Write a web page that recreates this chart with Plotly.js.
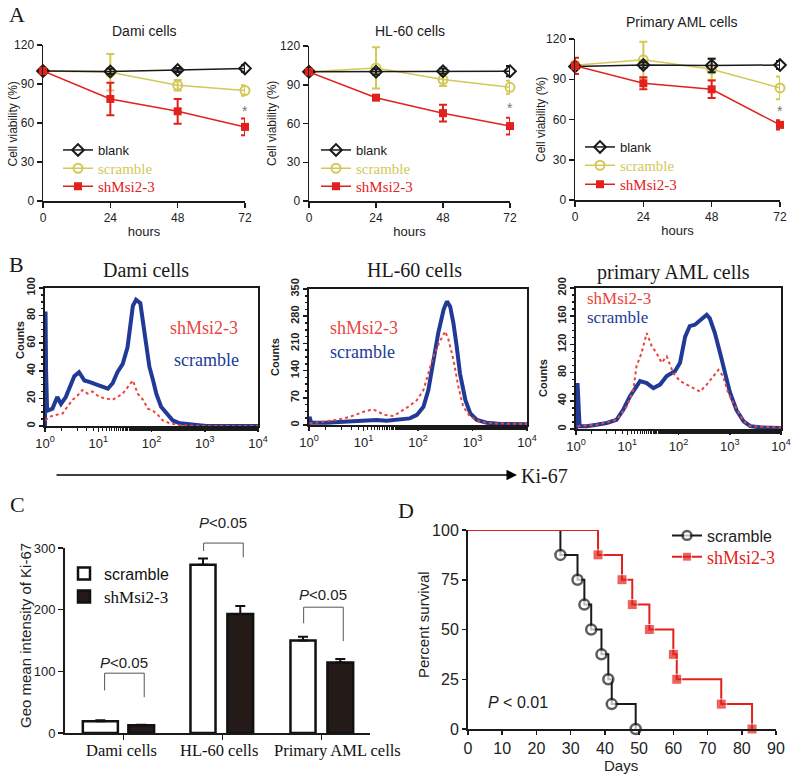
<!DOCTYPE html>
<html>
<head>
<meta charset="utf-8">
<script src="https://cdn.plot.ly/plotly-3.0.1.min.js"></script>
<style>html,body{margin:0;padding:0;background:#fff;}#chart{width:791px;height:776px;}</style>
</head>
<body>
<div id="chart"></div>
<script>
// ---------------- DATA ----------------
// Panel A: cell viability (%)
const hours = [0, 24, 48, 72];
const damiBlank = [100, 99.7, 100.8, 102];
const damiBlankErr = [1, 2, 1.5, 2.5];
const damiScr = [100, 99, 89, 85];
const damiScrErr = [1, 14, 4, 4];
const damiSh = [100, 78.5, 69, 57];
const damiShErr = [1, 12.5, 9.5, 6.5];

const hlBlank = [100, 100, 100.5, 100.5];
const hlBlankErr = [1.5, 2, 2, 4];
const hlScr = [100, 103, 94, 88];
const hlScrErr = [1, 16, 5, 5];
const hlSh = [100, 80, 68, 58];
const hlShErr = [2, 1, 6.5, 6.5];

const amlBlank = [99.5, 100.6, 100.3, 100.6];
const amlBlankErr = [1, 2, 5, 3];
const amlScr = [100.5, 104.5, 97.5, 83.5];
const amlScrErr = [1, 13.5, 8, 8.5];
const amlSh = [100, 87, 82.5, 56];
const amlShErr = [6, 4.5, 6.5, 3.5];

// Panel B: Ki-67 histograms (x = decade position, log10 of intensity; y = counts)
const damiScrLog = [0.0, 0.01, 0.02, 0.04, 0.14, 0.23, 0.30, 0.39, 0.45, 0.55, 0.64, 0.74, 0.83, 0.96, 1.08, 1.18, 1.27, 1.36, 1.46, 1.55, 1.65, 1.71, 1.79, 1.87, 1.96, 2.03, 2.09, 2.18, 2.28, 2.40, 2.53, 2.78, 3.03, 3.5, 4.0];
const damiScrCount = [0, 83, 40, 11, 12.6, 21, 16, 21, 26, 36, 39, 33, 32, 30, 28, 27, 31, 39, 45, 57, 87, 91.5, 89, 67, 43, 33, 23.5, 14, 9, 4, 2, 1, 0, 0, 0];
const damiShLog = [0.01, 0.07, 0.20, 0.33, 0.42, 0.52, 0.61, 0.70, 0.80, 0.89, 1.02, 1.14, 1.27, 1.36, 1.46, 1.55, 1.65, 1.74, 1.84, 1.93, 2.03, 2.12, 2.21, 2.34, 2.53, 3.0, 4.0];
const damiShCount = [4, 6.5, 8, 9, 14, 19, 22, 26, 23.5, 25, 21, 20, 19, 21, 23.5, 28, 33, 23.5, 19, 12.6, 11, 8, 4, 2, 0.5, 0, 0];

const hlScrLog = [0.0, 0.01, 0.04, 0.32, 0.63, 0.93, 1.24, 1.42, 1.67, 1.85, 1.98, 2.10, 2.19, 2.28, 2.37, 2.47, 2.53, 2.59, 2.65, 2.71, 2.77, 2.87, 2.96, 3.08, 3.26, 3.51, 4.0];
const hlScrCount = [0, 21, 6, 6, 8.6, 11, 13, 11, 13, 17, 26, 47, 90, 159, 236, 297, 318, 305, 262, 202, 133, 64, 30, 13, 6, 2.6, 1.7];
const hlShLog = [0.01, 0.32, 0.50, 0.75, 0.93, 1.06, 1.18, 1.27, 1.39, 1.55, 1.67, 1.82, 1.98, 2.10, 2.19, 2.28, 2.40, 2.50, 2.56, 2.65, 2.74, 2.83, 2.96, 3.14, 3.39, 4.0];
const hlShCount = [4, 8.6, 13, 21, 30, 37, 40, 34, 26, 23, 34, 47, 64, 90, 133, 176, 215, 241, 219, 168, 99, 47, 21, 8.6, 4, 2.6];

const amlScrLog = [0.0, 0.03, 0.07, 0.21, 0.40, 0.60, 0.79, 0.92, 1.05, 1.15, 1.25, 1.38, 1.51, 1.64, 1.77, 1.93, 2.03, 2.13, 2.22, 2.32, 2.45, 2.55, 2.61, 2.71, 2.81, 2.91, 3.00, 3.13, 3.27, 3.40, 3.59, 4.0];
const amlScrCount = [0, 65, 4, 4, 6, 8.5, 13, 27, 46, 56, 68, 65, 58, 63, 75, 82, 94, 131, 146, 148, 155, 162, 157, 136, 108, 79, 53, 27, 11, 4, 2.4, 1.4];
const amlShLog = [0.03, 0.40, 0.79, 0.99, 1.12, 1.18, 1.28, 1.38, 1.48, 1.57, 1.67, 1.77, 1.90, 2.03, 2.16, 2.29, 2.42, 2.55, 2.68, 2.78, 2.87, 2.97, 3.07, 3.17, 3.27, 3.40, 4.0];
const amlShCount = [4, 6, 13, 32, 56, 89, 108, 136, 117, 108, 94, 103, 79, 68, 63, 58, 53, 63, 75, 84, 75, 51, 37, 23, 11, 4, 2];

// Panel C: Geo mean intensity of Ki-67
const cells = ['Dami cells', 'HL-60 cells', 'Primary AML cells'];
const geoScr = [19, 273, 150];
const geoScrErr = [1.5, 10, 6];
const geoSh = [12.5, 193, 114.5];
const geoShErr = [1, 13, 5.5];

// Panel D: survival
const survScrDays = [0, 27, 32, 34, 36, 39, 41, 42, 49];
const survScr = [100, 87.5, 75, 62.5, 50, 37.5, 25, 12.5, 0];
const survShDays = [0, 38, 45, 48, 53, 60, 61, 74, 83];
const survSh = [100, 87.5, 75, 62.5, 50, 37.5, 25, 12.5, 0];

// Tick labels
const histTickVals = [1, 10, 100, 1000, 10000];
const histTickText = ['10<sup>0</sup>', '10<sup>1</sup>', '10<sup>2</sup>', '10<sup>3</sup>', '10<sup>4</sup>'];

// ---------------- LAYOUT HELPERS ----------------
const W = 791, H = 776;
const dx = (a, b) => [a / W, b / W];
const dy = (top, bottom) => [1 - bottom / H, 1 - top / H];
const PX = v => v / W;
const PY = v => 1 - v / H;
const FS = 'Liberation Sans, Arial, sans-serif';
const FT = 'Liberation Serif, Times New Roman, serif';
const BLACK = '#1a1a1a', YEL = '#d2c957', RED = '#e3211c';
const HBLUE = '#213a97', HRED = '#e8453c';

// one legend per entry so each entry can carry its own font
function leg(x, cy, family, size, color) {
  return {x: PX(x), y: PY(cy - (size * 0.5 + 8.5)), xanchor: 'left', yanchor: 'top', bgcolor: 'rgba(0,0,0,0)',
    font: {family: family, size: size, color: color}, tracegroupgap: 0, itemwidth: 30};
}

// ---------------- TRACES ----------------
const traces = [];
function addA(n, blank, blankErr, scr, scrErr, sh, shErr, legs) {
  const xa = 'x' + (n === 1 ? '' : n), ya = 'y' + (n === 1 ? '' : n);
  traces.push({
    type: 'scatter', mode: 'lines+markers', x: hours, y: scr, xaxis: xa, yaxis: ya,
    name: 'scramble', legend: legs[1], cliponaxis: false,
    line: {color: YEL, width: 1.5},
    marker: {symbol: 'circle-open', size: 9, color: YEL, line: {width: 2, color: YEL}},
    error_y: {type: 'data', array: scrErr, color: YEL, thickness: 2, width: 4}
  });
  traces.push({
    type: 'scatter', mode: 'lines+markers', x: hours, y: blank, xaxis: xa, yaxis: ya,
    name: 'blank', legend: legs[0], cliponaxis: false,
    line: {color: BLACK, width: 1.5},
    marker: {symbol: 'diamond-open', size: 9, color: BLACK, line: {width: 2, color: BLACK}},
    error_y: {type: 'data', array: blankErr, color: BLACK, thickness: 2, width: 4}
  });
  traces.push({
    type: 'scatter', mode: 'lines+markers', x: hours, y: sh, xaxis: xa, yaxis: ya,
    name: 'shMsi2-3', legend: legs[2], cliponaxis: false,
    line: {color: RED, width: 1.5},
    marker: {symbol: 'square', size: 8, color: RED},
    error_y: {type: 'data', array: shErr, color: RED, thickness: 2, width: 4}
  });
}
addA(1, damiBlank, damiBlankErr, damiScr, damiScrErr, damiSh, damiShErr, ['legend', 'legend2', 'legend3']);
addA(2, hlBlank, hlBlankErr, hlScr, hlScrErr, hlSh, hlShErr, ['legend4', 'legend5', 'legend6']);
addA(3, amlBlank, amlBlankErr, amlScr, amlScrErr, amlSh, amlShErr, ['legend7', 'legend8', 'legend9']);

function addB(n, scrLog, scrCount, shLog, shCount) {
  traces.push({
    type: 'scatter', mode: 'lines', x: scrLog.map(v => Math.pow(10, v)), y: scrCount,
    xaxis: 'x' + n, yaxis: 'y' + n, showlegend: false,
    line: {color: HBLUE, width: 4}
  });
  traces.push({
    type: 'scatter', mode: 'lines', x: shLog.map(v => Math.pow(10, v)), y: shCount,
    xaxis: 'x' + n, yaxis: 'y' + n, showlegend: false,
    line: {color: HRED, width: 2, dash: 'dot'}
  });
}
addB(4, damiScrLog, damiScrCount, damiShLog, damiShCount);
addB(5, hlScrLog, hlScrCount, hlShLog, hlShCount);
addB(6, amlScrLog, amlScrCount, amlShLog, amlShCount);

traces.push({
  type: 'bar', x: cells, y: geoScr, xaxis: 'x7', yaxis: 'y7', name: 'scramble', legend: 'legend10',
  offset: [-0.41, -0.323, -0.313], width: [0.354, 0.253, 0.253],
  marker: {color: '#ffffff', line: {color: '#111', width: 2.5}},
  error_y: {type: 'data', symmetric: false, array: geoScrErr, arrayminus: [0, 0, 0], color: '#111', thickness: 2, width: 5}
});
traces.push({
  type: 'bar', x: cells, y: geoSh, xaxis: 'x7', yaxis: 'y7', name: 'shMsi2-3', legend: 'legend11',
  offset: [0.05, 0.05, 0.06], width: [0.26, 0.26, 0.26],
  marker: {color: '#241a18', line: {color: '#111', width: 2.5}},
  error_y: {type: 'data', symmetric: false, array: geoShErr, arrayminus: [0, 0, 0], color: '#111', thickness: 2, width: 5}
});

traces.push({
  type: 'scatter', mode: 'lines+markers', x: survScrDays, y: survScr, xaxis: 'x8', yaxis: 'y8',
  name: 'scramble', legend: 'legend12', cliponaxis: false,
  line: {color: BLACK, width: 2, shape: 'hv'},
  marker: {symbol: 'circle', size: survScr.map((v, i) => i === 0 ? 0 : 10), color: '#fff', line: {color: BLACK, width: 2.5}}
});
traces.push({
  type: 'scatter', mode: 'lines+markers', x: survShDays, y: survSh, xaxis: 'x8', yaxis: 'y8',
  name: 'shMsi2-3', legend: 'legend13', cliponaxis: false,
  line: {color: RED, width: 2, shape: 'hv'},
  marker: {symbol: 'square', size: survSh.map((v, i) => i === 0 ? 0 : 10), color: RED}
});

// ---------------- AXES ----------------
function baseAx(extra) {
  return Object.assign({
    showline: true, linecolor: BLACK, linewidth: 1.5, ticks: 'outside', ticklen: 5, tickwidth: 1.5,
    tickcolor: BLACK, showgrid: false, zeroline: false, fixedrange: true,
    tickfont: {family: FS, size: 12, color: '#222'}
  }, extra);
}
function axAx(dom, anchor) {
  return baseAx({domain: dx(...dom), anchor: anchor, range: [0, 72], tickvals: hours,
    title: {text: 'hours', font: {family: FS, size: 13, color: '#222'}, standoff: 3}});
}
function axAy(dom, anchor) {
  return baseAx({domain: dy(...dom), anchor: anchor, range: [0, 120], dtick: 30});
}
function axBx(dom, anchor) {
  return baseAx({domain: dx(...dom), anchor: anchor, type: 'log', range: [0, 4],
    tickvals: histTickVals, ticktext: histTickText, mirror: true, linewidth: 2, ticklen: 4,
    tickfont: {family: FS, size: 13, color: '#222'},
    minor: {ticks: 'outside', ticklen: 3, tickcolor: BLACK, tickwidth: 1}});
}
function axBy(dom, anchor, max, dt) {
  return baseAx({domain: dy(...dom), anchor: anchor, range: [0, max], dtick: dt, mirror: true, linewidth: 2,
    ticklen: 4, tickangle: -90, tickfont: {family: FS, size: 11, color: '#222', weight: 'bold'},
    minor: {ticks: 'outside', ticklen: 2.5, tickcolor: BLACK, dtick: dt / 4}});
}

const cRange = [-0.59, 2.49];
const cPX = v => PX(65 + (v - cRange[0]) / (cRange[1] - cRange[0]) * (370 - 65));
const cPY = v => PY(733 - v / 300 * (733 - 548));

// bracket geometry for panel C (category index + offsets, value heights)
const brackets = [
  {c: 0, l: -0.19, r: 0.21, top: 97, lb: 69, rb: 58, ty: 115},
  {c: 1, l: -0.19, r: 0.21, top: 308, lb: 295, rb: 285, ty: 342},
  {c: 2, l: -0.18, r: 0.22, top: 204, lb: 178, rb: 149, ty: 224}
];

const shapes = brackets.map(b => ({
  type: 'path', xref: 'paper', yref: 'paper',
  path: `M ${cPX(b.c + b.l)},${cPY(b.lb)} L ${cPX(b.c + b.l)},${cPY(b.top)} L ${cPX(b.c + b.r)},${cPY(b.top)} L ${cPX(b.c + b.r)},${cPY(b.rb)}`,
  line: {color: '#555', width: 1}
}));

const ann = [];
function txt(x, y, text, size, family, extra) {
  ann.push(Object.assign({xref: 'paper', yref: 'paper', x: PX(x), y: PY(y), text: text, showarrow: false,
    font: {family: family, size: size, color: BLACK}, xanchor: 'center', yanchor: 'middle'}, extra || {}));
}
function ytitle(x, y, text, size, extra) {
  txt(x, y, text, size, FS, Object.assign({textangle: -90, font: {family: FS, size: size, color: '#222'}}, extra || {}));
}
// panel letters
txt(7, 14, 'A', 22, FT, {xanchor: 'left'});
txt(7, 264, 'B', 22, FT, {xanchor: 'left'});
txt(8, 504, 'C', 22, FT, {xanchor: 'left'});
txt(396, 510, 'D', 22, FT, {xanchor: 'left'});
// A titles
txt(144, 31, 'Dami cells', 14, FS);
txt(410, 31, 'HL-60 cells', 14, FS);
txt(682, 22, 'Primary AML cells', 14, FS);
// A y titles
ytitle(12.5, 124, 'Cell viability (%)', 12);
ytitle(272, 124, 'Cell viability (%)', 12);
ytitle(541, 120, 'Cell viability (%)', 12);
// A significance stars
ann.push({xref: 'x', yref: 'y', x: 72, y: 69, text: '*', showarrow: false, font: {family: FS, size: 14, color: '#777'}});
ann.push({xref: 'x2', yref: 'y2', x: 72, y: 72, text: '*', showarrow: false, font: {family: FS, size: 14, color: '#777'}});
ann.push({xref: 'x3', yref: 'y3', x: 72, y: 66, text: '*', showarrow: false, font: {family: FS, size: 14, color: '#777'}});
// B titles
txt(146, 270, 'Dami cells', 20, FT);
txt(414, 270, 'HL-60 cells', 20, FT);
txt(673, 272, 'primary AML cells', 20, FT);
// B y titles
ytitle(20, 340, 'Counts', 11, {font: {family: FS, size: 11, color: '#222', weight: 'bold'}});
ytitle(275, 357, 'Counts', 11, {font: {family: FS, size: 11, color: '#222', weight: 'bold'}});
ytitle(543, 378, 'Counts', 11, {font: {family: FS, size: 11, color: '#222', weight: 'bold'}});
// B labels
txt(168, 328, 'shMsi2-3', 18, FT, {xanchor: 'left', font: {family: FT, size: 18, color: HRED}});
txt(172, 360, 'scramble', 18, FT, {xanchor: 'left', font: {family: FT, size: 18, color: HBLUE}});
txt(328, 328, 'shMsi2-3', 18, FT, {xanchor: 'left', font: {family: FT, size: 18, color: HRED}});
txt(328, 352, 'scramble', 18, FT, {xanchor: 'left', font: {family: FT, size: 18, color: HBLUE}});
txt(585, 298, 'shMsi2-3', 17, FT, {xanchor: 'left', font: {family: FT, size: 17, color: HRED}});
txt(585, 317, 'scramble', 17, FT, {xanchor: 'left', font: {family: FT, size: 17, color: HBLUE}});
// Ki-67 arrow
ann.push({xref: 'paper', yref: 'paper', x: PX(517), y: PY(475), ax: -462, ay: 0, text: '', showarrow: true,
  arrowhead: 2, arrowsize: 1.4, arrowwidth: 1.5, arrowcolor: '#000', standoff: 0});
txt(519, 476, 'Ki-67', 20, FT, {xanchor: 'left'});
// C category labels (placed as in the reference)
const cLabelX = [121, 219, 337];
cells.forEach((c, i) => txt(cLabelX[i], 750, c, 16.5, FT, {font: {family: FT, size: 16.5, color: '#111'}}));
// C y title
ytitle(25, 636, 'Geo mean intensity of Ki-67', 15);
// C P values
brackets.forEach(b => {
  ann.push({xref: 'paper', yref: 'paper', x: cPX(b.c + (b.l + b.r) / 2), y: cPY(b.ty), text: '<i>P</i>&lt;0.05',
    showarrow: false, font: {family: FS, size: 15, color: '#222'}, xanchor: 'center', yanchor: 'middle'});
});
// D titles
ytitle(423, 625, 'Percent survival', 15);
txt(621, 765, 'Days', 15, FS, {font: {family: FS, size: 15, color: '#222'}});
// D p value
txt(486, 702, '<i>P</i> &lt; 0.01', 16, FS, {xanchor: 'left'});

const layout = {
  width: W, height: H, margin: {l: 0, r: 0, t: 0, b: 0}, paper_bgcolor: '#fff', plot_bgcolor: 'rgba(0,0,0,0)',
  showlegend: true, barmode: 'overlay', font: {family: FS, color: BLACK},
  xaxis: axAx([43, 245], 'y'), yaxis: axAy([45, 201], 'x'),
  xaxis2: axAx([309, 510], 'y2'), yaxis2: axAy([46, 201], 'x2'),
  xaxis3: axAx([575, 780], 'y3'), yaxis3: axAy([39, 200], 'x3'),
  xaxis4: axBx([45, 258], 'y4'), yaxis4: axBy([288, 426], 'x4', 100, 20),
  xaxis5: axBx([309, 527], 'y5'), yaxis5: axBy([289, 425], 'x5', 350, 70),
  xaxis6: axBx([576, 781], 'y6'), yaxis6: axBy([288, 429], 'x6', 200, 40),
  xaxis7: baseAx({domain: dx(65, 370), anchor: 'y7', type: 'category', range: cRange, linewidth: 2,
    showticklabels: false}),
  yaxis7: baseAx({domain: dy(548, 733), anchor: 'x7', range: [0, 300], dtick: 100, linewidth: 2,
    tickfont: {family: FS, size: 13, color: '#222'}}),
  xaxis8: baseAx({domain: dx(468, 776), anchor: 'y8', range: [0, 90], dtick: 10, linewidth: 2, ticklen: 4,
    tickfont: {family: FS, size: 16, color: '#222'}}),
  yaxis8: baseAx({domain: dy(530, 729), anchor: 'x8', range: [0, 100], dtick: 25, linewidth: 2, ticklen: 4,
    tickfont: {family: FS, size: 16, color: '#222'}}),
  // panel A legends (one per entry)
  legend: leg(58, 150, FS, 13, BLACK),
  legend2: leg(58, 168, FT, 15, YEL),
  legend3: leg(58, 186, FT, 15, RED),
  legend4: leg(316, 150, FS, 13, BLACK),
  legend5: leg(316, 168, FT, 15, YEL),
  legend6: leg(316, 186, FT, 15, RED),
  legend7: leg(580, 147, FS, 13, BLACK),
  legend8: leg(580, 165, FT, 15, YEL),
  legend9: leg(580, 184, FT, 15, RED),
  // panel C legends
  legend10: leg(64, 573, FS, 16, '#111'),
  legend11: leg(64, 596, FT, 17, '#111'),
  // panel D legends
  legend12: leg(667, 535, FS, 16, '#222'),
  legend13: leg(667, 556, FT, 18, RED),
  shapes: shapes,
  annotations: ann
};

Plotly.newPlot('chart', traces, layout, {displayModeBar: false, staticPlot: true});
</script>
</body>
</html>
